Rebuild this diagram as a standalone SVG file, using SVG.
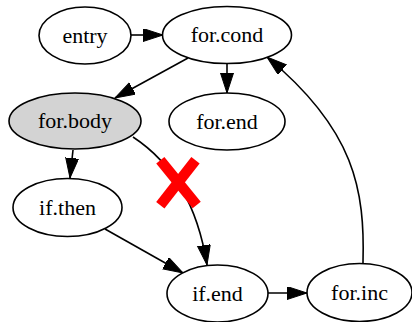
<svg xmlns="http://www.w3.org/2000/svg" width="412" height="322" viewBox="0 0 412 322">
<defs>
<marker id="ah" markerUnits="userSpaceOnUse" markerWidth="22" markerHeight="14" refX="20" refY="6.5" orient="auto" viewBox="0 0 22 14">
<path d="M0,0 L20,6.5 L0,13 z" fill="#000" stroke="#000" stroke-width="1"/>
</marker>
<style>
.n ellipse{fill:#fff;stroke:#000;stroke-width:1.6}
.n text{font-family:"Times New Roman","Liberation Serif","DejaVu Serif",serif;font-size:22px;text-anchor:middle;fill:#000}
.e path{fill:none;stroke:#000;stroke-width:1.6;marker-end:url(#ah)}
</style>
</defs>
<rect width="412" height="322" fill="#fff"/>
<g id="edges" class="e">
<path d="M131,35 L163,35"/>
<path d="M188,58 L115,98"/>
<path d="M227,64 L227,93"/>
<path d="M73,150 L70,178"/>
<path d="M133,137 C165,158 196,195 207,265"/>
<path d="M105,229 L183,273"/>
<path d="M268,293 L307,293"/>
<path d="M363,263 C365,190 355,130 267,57"/>
</g>
<g id="entry" class="n"><ellipse cx="85" cy="35.5" rx="46" ry="28.5"/><text x="85" y="42.5">entry</text></g>
<g id="for.cond" class="n"><ellipse cx="227" cy="35" rx="64.5" ry="28.5"/><text x="227" y="42">for.cond</text></g>
<g id="for.body" class="n"><ellipse cx="75" cy="121" rx="66" ry="28" style="fill:#d3d3d3"/><text x="75" y="128">for.body</text></g>
<g id="for.end" class="n"><ellipse cx="227" cy="121.5" rx="58" ry="28.5"/><text x="227" y="128.5">for.end</text></g>
<g id="if.then" class="n"><ellipse cx="67.5" cy="207.5" rx="54.5" ry="29"/><text x="67.5" y="214.5">if.then</text></g>
<g id="if.end" class="n"><ellipse cx="217.5" cy="293.5" rx="50.5" ry="28.5"/><text x="217.5" y="300.5">if.end</text></g>
<g id="for.inc" class="n"><ellipse cx="359.5" cy="292.5" rx="52.5" ry="29"/><text x="359.5" y="299.5">for.inc</text></g>
<g id="cross" stroke="#ff0000" stroke-width="10.5">
<line x1="160.3" y1="160.3" x2="196.7" y2="205"/>
<line x1="195.5" y1="160.3" x2="160.3" y2="205.3"/>
</g>
</svg>
